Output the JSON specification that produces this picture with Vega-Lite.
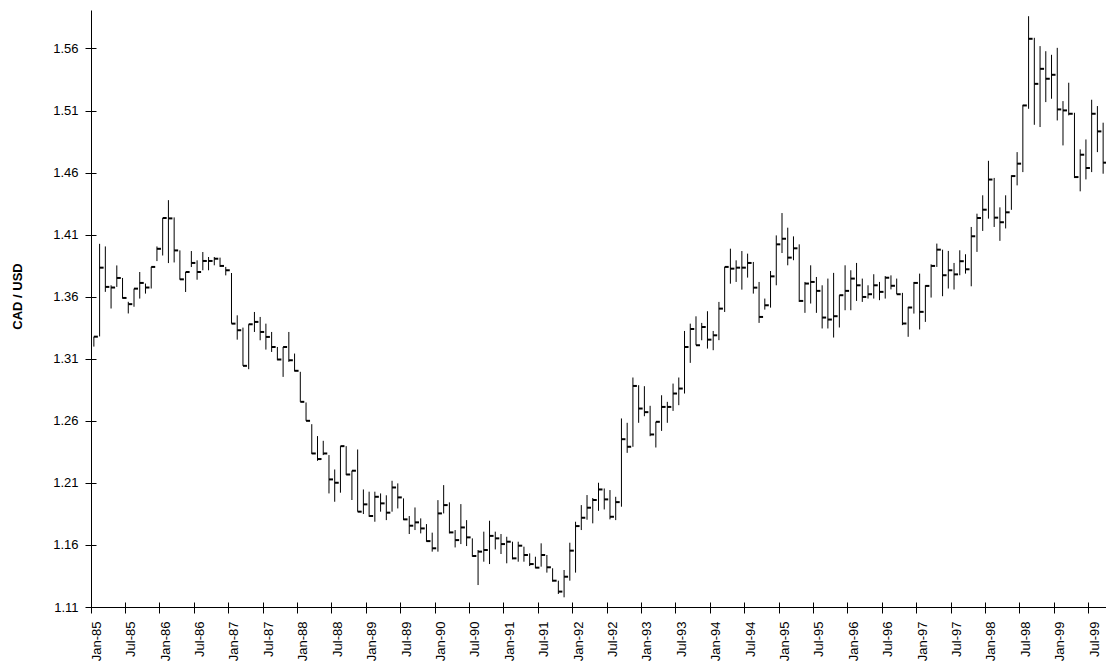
{
  "$schema": "https://vega.github.io/schema/vega-lite/v6.json",
  "width": 1015,
  "height": 597,
  "autosize": {"type": "none"},
  "padding": {"left": 91, "top": 10, "right": 0, "bottom": 63},
  "background": "white",
  "config": {"view": {"stroke": null}, "font": "Liberation Sans"},
  "data": {"values": [
    {"month":"1985-01","low":1.3198,"high":1.3278,"close":1.3278},
    {"month":"1985-02","low":1.328,"high":1.4026,"close":1.3834},
    {"month":"1985-03","low":1.3639,"high":1.4005,"close":1.3679},
    {"month":"1985-04","low":1.3505,"high":1.3692,"close":1.3674},
    {"month":"1985-05","low":1.3679,"high":1.3852,"close":1.3751},
    {"month":"1985-06","low":1.3585,"high":1.3751,"close":1.359},
    {"month":"1985-07","low":1.3465,"high":1.3559,"close":1.354},
    {"month":"1985-08","low":1.3519,"high":1.3665,"close":1.3665},
    {"month":"1985-09","low":1.3585,"high":1.3799,"close":1.3711},
    {"month":"1985-10","low":1.3625,"high":1.3706,"close":1.3674},
    {"month":"1985-11","low":1.3666,"high":1.384,"close":1.384},
    {"month":"1985-12","low":1.3887,"high":1.4005,"close":1.3986},
    {"month":"1986-01","low":1.3932,"high":1.4234,"close":1.4234},
    {"month":"1986-02","low":1.3871,"high":1.4378,"close":1.4231},
    {"month":"1986-03","low":1.3876,"high":1.4239,"close":1.3973},
    {"month":"1986-04","low":1.3737,"high":1.3973,"close":1.374},
    {"month":"1986-05","low":1.3638,"high":1.3799,"close":1.3799},
    {"month":"1986-06","low":1.3839,"high":1.3968,"close":1.3872},
    {"month":"1986-07","low":1.3737,"high":1.3893,"close":1.3799},
    {"month":"1986-08","low":1.3813,"high":1.396,"close":1.3888},
    {"month":"1986-09","low":1.3813,"high":1.392,"close":1.3888},
    {"month":"1986-10","low":1.3853,"high":1.392,"close":1.3906},
    {"month":"1986-11","low":1.384,"high":1.3915,"close":1.3848},
    {"month":"1986-12","low":1.3772,"high":1.384,"close":1.3813},
    {"month":"1987-01","low":1.3383,"high":1.3791,"close":1.3383},
    {"month":"1987-02","low":1.3254,"high":1.345,"close":1.333},
    {"month":"1987-03","low":1.3043,"high":1.3351,"close":1.3043},
    {"month":"1987-04","low":1.3016,"high":1.3378,"close":1.3378},
    {"month":"1987-05","low":1.3316,"high":1.3477,"close":1.3397},
    {"month":"1987-06","low":1.3249,"high":1.3437,"close":1.3316},
    {"month":"1987-07","low":1.3174,"high":1.3383,"close":1.3276},
    {"month":"1987-08","low":1.3155,"high":1.3316,"close":1.3195},
    {"month":"1987-09","low":1.3088,"high":1.3195,"close":1.3094},
    {"month":"1987-10","low":1.2954,"high":1.3195,"close":1.3195},
    {"month":"1987-11","low":1.3075,"high":1.3316,"close":1.3088},
    {"month":"1987-12","low":1.2998,"high":1.3142,"close":1.3003},
    {"month":"1988-01","low":1.2753,"high":1.2995,"close":1.2753},
    {"month":"1988-02","low":1.26,"high":1.2748,"close":1.26},
    {"month":"1988-03","low":1.2332,"high":1.2573,"close":1.2337},
    {"month":"1988-04","low":1.2278,"high":1.2477,"close":1.2292},
    {"month":"1988-05","low":1.2324,"high":1.2439,"close":1.2337},
    {"month":"1988-06","low":1.2015,"high":1.2324,"close":1.2128},
    {"month":"1988-07","low":1.1948,"high":1.2208,"close":1.2101},
    {"month":"1988-08","low":1.2021,"high":1.2396,"close":1.2396},
    {"month":"1988-09","low":1.2163,"high":1.2396,"close":1.2168},
    {"month":"1988-10","low":1.1962,"high":1.2198,"close":1.2198},
    {"month":"1988-11","low":1.1868,"high":1.2369,"close":1.1868},
    {"month":"1988-12","low":1.1849,"high":1.2047,"close":1.1927},
    {"month":"1989-01","low":1.1827,"high":1.2029,"close":1.1833},
    {"month":"1989-02","low":1.1787,"high":1.2029,"close":1.1988},
    {"month":"1989-03","low":1.1868,"high":1.2015,"close":1.1935},
    {"month":"1989-04","low":1.18,"high":1.2,"close":1.186},
    {"month":"1989-05","low":1.1868,"high":1.2117,"close":1.2063},
    {"month":"1989-06","low":1.1894,"high":1.2096,"close":1.1983},
    {"month":"1989-07","low":1.18,"high":1.1975,"close":1.1806},
    {"month":"1989-08","low":1.1688,"high":1.1833,"close":1.1755},
    {"month":"1989-09","low":1.172,"high":1.1902,"close":1.1782},
    {"month":"1989-10","low":1.1693,"high":1.1814,"close":1.1733},
    {"month":"1989-11","low":1.1626,"high":1.1768,"close":1.1631},
    {"month":"1989-12","low":1.1546,"high":1.1699,"close":1.1573},
    {"month":"1990-01","low":1.1546,"high":1.1961,"close":1.1854},
    {"month":"1990-02","low":1.1854,"high":1.2082,"close":1.1921},
    {"month":"1990-03","low":1.1693,"high":1.1943,"close":1.1701},
    {"month":"1990-04","low":1.158,"high":1.172,"close":1.1639},
    {"month":"1990-05","low":1.1607,"high":1.1929,"close":1.1741},
    {"month":"1990-06","low":1.1591,"high":1.18,"close":1.1661},
    {"month":"1990-07","low":1.1505,"high":1.1653,"close":1.1511},
    {"month":"1990-08","low":1.1277,"high":1.1559,"close":1.1546},
    {"month":"1990-09","low":1.1465,"high":1.1707,"close":1.1559},
    {"month":"1990-10","low":1.1446,"high":1.1795,"close":1.1673},
    {"month":"1990-11","low":1.1564,"high":1.1707,"close":1.1653},
    {"month":"1990-12","low":1.1527,"high":1.1688,"close":1.1607},
    {"month":"1991-01","low":1.1452,"high":1.1666,"close":1.1626},
    {"month":"1991-02","low":1.1484,"high":1.1626,"close":1.1492},
    {"month":"1991-03","low":1.1465,"high":1.1626,"close":1.1594},
    {"month":"1991-04","low":1.1465,"high":1.1586,"close":1.1519},
    {"month":"1991-05","low":1.143,"high":1.1532,"close":1.1446},
    {"month":"1991-06","low":1.1412,"high":1.1505,"close":1.1417},
    {"month":"1991-07","low":1.1425,"high":1.1613,"close":1.1519},
    {"month":"1991-08","low":1.1377,"high":1.1519,"close":1.142},
    {"month":"1991-09","low":1.1304,"high":1.1412,"close":1.1312},
    {"month":"1991-10","low":1.1205,"high":1.1312,"close":1.1224},
    {"month":"1991-11","low":1.1178,"high":1.1398,"close":1.1344},
    {"month":"1991-12","low":1.1312,"high":1.1618,"close":1.1554},
    {"month":"1992-01","low":1.1377,"high":1.1787,"close":1.1752},
    {"month":"1992-02","low":1.172,"high":1.1921,"close":1.1819},
    {"month":"1992-03","low":1.1803,"high":1.2002,"close":1.19},
    {"month":"1992-04","low":1.1774,"high":1.1978,"close":1.1962},
    {"month":"1992-05","low":1.1875,"high":1.2101,"close":1.2047},
    {"month":"1992-06","low":1.1886,"high":1.2055,"close":1.1967},
    {"month":"1992-07","low":1.1806,"high":1.2042,"close":1.1827},
    {"month":"1992-08","low":1.18,"high":1.1988,"close":1.1945},
    {"month":"1992-09","low":1.1908,"high":1.2619,"close":1.2452},
    {"month":"1992-10","low":1.2342,"high":1.2584,"close":1.2391},
    {"month":"1992-11","low":1.2391,"high":1.2949,"close":1.2881},
    {"month":"1992-12","low":1.2584,"high":1.2887,"close":1.2699},
    {"month":"1993-01","low":1.2637,"high":1.2879,"close":1.267},
    {"month":"1993-02","low":1.2476,"high":1.2721,"close":1.249},
    {"month":"1993-03","low":1.2385,"high":1.2592,"close":1.2592},
    {"month":"1993-04","low":1.2519,"high":1.2806,"close":1.2712},
    {"month":"1993-05","low":1.2584,"high":1.2753,"close":1.2712},
    {"month":"1993-06","low":1.268,"high":1.29,"close":1.282},
    {"month":"1993-07","low":1.2726,"high":1.2949,"close":1.286},
    {"month":"1993-08","low":1.282,"high":1.3324,"close":1.3195},
    {"month":"1993-09","low":1.3067,"high":1.3383,"close":1.334},
    {"month":"1993-10","low":1.3209,"high":1.3442,"close":1.3209},
    {"month":"1993-11","low":1.3249,"high":1.3389,"close":1.3356},
    {"month":"1993-12","low":1.3182,"high":1.3483,"close":1.3254},
    {"month":"1994-01","low":1.3169,"high":1.3324,"close":1.3289},
    {"month":"1994-02","low":1.325,"high":1.3558,"close":1.3504},
    {"month":"1994-03","low":1.3477,"high":1.384,"close":1.384},
    {"month":"1994-04","low":1.3705,"high":1.3987,"close":1.3826},
    {"month":"1994-05","low":1.3719,"high":1.3893,"close":1.3834},
    {"month":"1994-06","low":1.3657,"high":1.3968,"close":1.3834},
    {"month":"1994-07","low":1.3754,"high":1.3947,"close":1.3872},
    {"month":"1994-08","low":1.3625,"high":1.388,"close":1.3673},
    {"month":"1994-09","low":1.3389,"high":1.3719,"close":1.3437},
    {"month":"1994-10","low":1.3496,"high":1.3585,"close":1.3531},
    {"month":"1994-11","low":1.3512,"high":1.3807,"close":1.3764},
    {"month":"1994-12","low":1.3692,"high":1.4094,"close":1.4022},
    {"month":"1995-01","low":1.3952,"high":1.4274,"close":1.4067},
    {"month":"1995-02","low":1.3853,"high":1.4156,"close":1.3915},
    {"month":"1995-03","low":1.3894,"high":1.4086,"close":1.399},
    {"month":"1995-04","low":1.3558,"high":1.4022,"close":1.3566},
    {"month":"1995-05","low":1.347,"high":1.3719,"close":1.3706},
    {"month":"1995-06","low":1.3545,"high":1.3853,"close":1.3719},
    {"month":"1995-07","low":1.347,"high":1.3759,"close":1.3647},
    {"month":"1995-08","low":1.3344,"high":1.3692,"close":1.3432},
    {"month":"1995-09","low":1.3344,"high":1.3746,"close":1.3416},
    {"month":"1995-10","low":1.3271,"high":1.3792,"close":1.3443},
    {"month":"1995-11","low":1.3352,"high":1.3612,"close":1.3612},
    {"month":"1995-12","low":1.3491,"high":1.3853,"close":1.3647},
    {"month":"1996-01","low":1.3491,"high":1.3813,"close":1.3746},
    {"month":"1996-02","low":1.3566,"high":1.3872,"close":1.3692},
    {"month":"1996-03","low":1.3558,"high":1.3746,"close":1.3598},
    {"month":"1996-04","low":1.3585,"high":1.3692,"close":1.362},
    {"month":"1996-05","low":1.3585,"high":1.3781,"close":1.3692},
    {"month":"1996-06","low":1.3572,"high":1.3719,"close":1.3639},
    {"month":"1996-07","low":1.3585,"high":1.3766,"close":1.3753},
    {"month":"1996-08","low":1.3659,"high":1.3772,"close":1.3688},
    {"month":"1996-09","low":1.362,"high":1.3746,"close":1.362},
    {"month":"1996-10","low":1.3371,"high":1.3631,"close":1.3384},
    {"month":"1996-11","low":1.3277,"high":1.3518,"close":1.3513},
    {"month":"1996-12","low":1.3464,"high":1.3719,"close":1.3711},
    {"month":"1997-01","low":1.3336,"high":1.3786,"close":1.3478},
    {"month":"1997-02","low":1.3397,"high":1.3692,"close":1.3687},
    {"month":"1997-03","low":1.3593,"high":1.3861,"close":1.3848},
    {"month":"1997-04","low":1.384,"high":1.4028,"close":1.3979},
    {"month":"1997-05","low":1.3604,"high":1.3979,"close":1.3773},
    {"month":"1997-06","low":1.3666,"high":1.3969,"close":1.3813},
    {"month":"1997-07","low":1.3658,"high":1.3872,"close":1.378},
    {"month":"1997-08","low":1.3773,"high":1.3974,"close":1.3886},
    {"month":"1997-09","low":1.3786,"high":1.3942,"close":1.3821},
    {"month":"1997-10","low":1.3684,"high":1.4162,"close":1.4087},
    {"month":"1997-11","low":1.3961,"high":1.4269,"close":1.4234},
    {"month":"1997-12","low":1.413,"high":1.4417,"close":1.4301},
    {"month":"1998-01","low":1.4229,"high":1.4695,"close":1.4544},
    {"month":"1998-02","low":1.4162,"high":1.4557,"close":1.4237},
    {"month":"1998-03","low":1.405,"high":1.432,"close":1.42},
    {"month":"1998-04","low":1.415,"high":1.4417,"close":1.428},
    {"month":"1998-05","low":1.43,"high":1.4578,"close":1.4572},
    {"month":"1998-06","low":1.4497,"high":1.4765,"close":1.4672},
    {"month":"1998-07","low":1.4604,"high":1.5146,"close":1.5141},
    {"month":"1998-08","low":1.5114,"high":1.586,"close":1.5678},
    {"month":"1998-09","low":1.4985,"high":1.5686,"close":1.5315},
    {"month":"1998-10","low":1.4967,"high":1.5619,"close":1.5436},
    {"month":"1998-11","low":1.5168,"high":1.5578,"close":1.5356},
    {"month":"1998-12","low":1.5195,"high":1.5549,"close":1.5388},
    {"month":"1999-01","low":1.502,"high":1.5605,"close":1.5109},
    {"month":"1999-02","low":1.4819,"high":1.5176,"close":1.5101},
    {"month":"1999-03","low":1.5061,"high":1.5324,"close":1.5074},
    {"month":"1999-04","low":1.4556,"high":1.5082,"close":1.4564},
    {"month":"1999-05","low":1.4449,"high":1.4787,"close":1.4744},
    {"month":"1999-06","low":1.4545,"high":1.4867,"close":1.4637},
    {"month":"1999-07","low":1.4604,"high":1.5187,"close":1.5074},
    {"month":"1999-08","low":1.4765,"high":1.5136,"close":1.4932},
    {"month":"1999-09","low":1.4591,"high":1.5002,"close":1.468}
  ]},
  "layer": [
    {
      "mark": {"type": "rule", "color": "black", "strokeWidth": 1},
      "encoding": {
        "x": {"field": "month", "type": "ordinal",
          "scale": {"type": "band", "paddingInner": 0, "paddingOuter": 0},
          "axis": {"orient": "bottom", "title": null, "grid": false,
            "values": ["1985-01","1985-07","1986-01","1986-07","1987-01","1987-07","1988-01","1988-07","1989-01","1989-07","1990-01","1990-07","1991-01","1991-07","1992-01","1992-07","1993-01","1993-07","1994-01","1994-07","1995-01","1995-07","1996-01","1996-07","1997-01","1997-07","1998-01","1998-07","1999-01","1999-07"],
            "bandPosition": 0,
            "labelExpr": "(substring(datum.value,5,7)=='01'?'Jan-':'Jul-')+substring(datum.value,2,4)",
            "labelAngle": -90, "labelFontSize": 13, "labelColor": "black", "labelFont": "Liberation Sans",
            "labelOffset": 3, "labelPadding": 8, "labelOverlap": false,
            "tickSize": 6, "tickColor": "black", "domainColor": "black", "tickWidth": 1, "domainWidth": 1}},
        "y": {"field": "low", "type": "quantitative",
          "scale": {"domain": [1.11, 1.591], "nice": false, "zero": false},
          "axis": {"orient": "left", "grid": false,
            "values": [1.11, 1.16, 1.21, 1.26, 1.31, 1.36, 1.41, 1.46, 1.51, 1.56],
            "format": ".2f", "tickSize": 6, "labelPadding": 7, "labelFontSize": 13, "labelColor": "black", "labelFont": "Liberation Sans",
            "tickColor": "black", "domainColor": "black",
            "title": "CAD / USD", "titleFontWeight": "bold", "titleFontSize": 13, "titleColor": "black", "titleFont": "Liberation Sans", "titlePadding": 28, "titleY": 286}},
        "y2": {"field": "high"}
      }
    },
    {
      "mark": {"type": "tick", "orient": "horizontal", "color": "black", "thickness": 2, "size": 4, "xOffset": 2, "opacity": 1},
      "encoding": {
        "x": {"field": "month", "type": "ordinal",
          "scale": {"type": "band", "paddingInner": 0, "paddingOuter": 0},
          "axis": {"orient": "bottom", "title": null, "grid": false, "labels": false, "domain": false,
            "values": ["1985-01","1985-07","1986-01","1986-07","1987-01","1987-07","1988-01","1988-07","1989-01","1989-07","1990-01","1990-07","1991-01","1991-07","1992-01","1992-07","1993-01","1993-07","1994-01","1994-07","1995-01","1995-07","1996-01","1996-07","1997-01","1997-07","1998-01","1998-07","1999-01","1999-07"],
            "bandPosition": 0, "tickSize": 5, "offset": -5, "tickColor": "black"}},
        "y": {"field": "close", "type": "quantitative",
          "scale": {"domain": [1.11, 1.591], "nice": false, "zero": false},
          "axis": {"orient": "left", "grid": false, "labels": false, "domain": false, "title": null,
            "values": [1.11, 1.16, 1.21, 1.26, 1.31, 1.36, 1.41, 1.46, 1.51, 1.56],
            "tickSize": 5, "offset": -5, "tickColor": "black"}}
      }
    }
  ],
  "resolve": {"axis": {"x": "independent", "y": "independent"}}
}
